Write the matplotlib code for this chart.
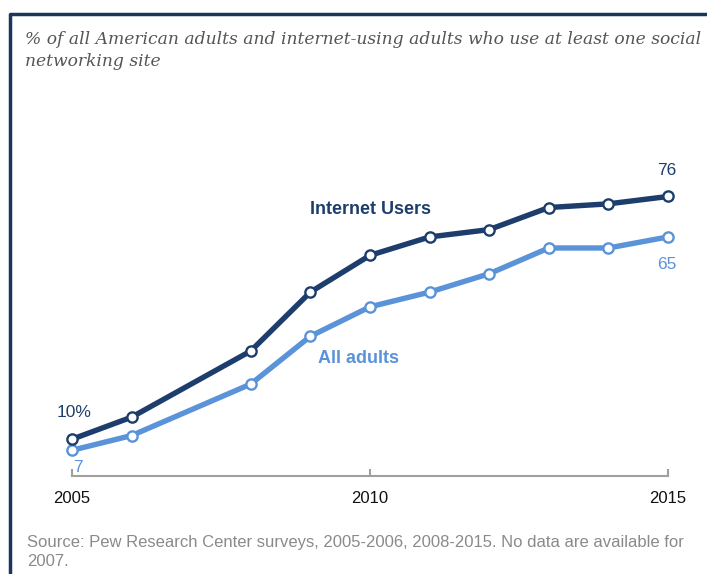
import matplotlib
matplotlib.use('Agg')
from matplotlib import pyplot as plt
from matplotlib.lines import Line2D

years = [2005, 2006, 2008, 2009, 2010, 2011, 2012, 2013, 2014, 2015]
internet_users = [10, 16, 34, 50, 60, 65, 67, 73, 74, 76]
all_adults = [7, 11, 25, 38, 46, 50, 55, 62, 62, 65]
xticks = [2005, 2010, 2015]

dark = '#1d3e6c'
light = '#5b93d9'
W, H = 707, 574

fig = plt.figure(figsize=(W / 100, H / 100), dpi=100)
ax = fig.add_axes([72 / W, 1 - 476 / H, (668 - 72) / W, 331 / H])

for vals, col in [(all_adults, light), (internet_users, dark)]:
    ax.plot(years, vals, color=col, lw=3.9, marker='o', ms=7.4,
            mfc='white', mec=col, mew=1.7, clip_on=False, zorder=3)

ax.set_xlim(2005, 2015)
ax.set_ylim(0, 90)
for s in ['top', 'right', 'left']:
    ax.spines[s].set_visible(False)
ax.spines['bottom'].set_color('#a0a0a0')
ax.spines['bottom'].set_linewidth(1.5)
ax.set_yticks([])
ax.set_xticks(xticks)
ax.set_xticklabels([str(x) for x in xticks], fontsize=12, color='#111111',
                   family='Liberation Sans')
ax.tick_params(axis='x', direction='in', length=5, width=1.5, color='#a0a0a0', pad=11)

# series labels
ax.text(2010, 72.5, 'Internet Users', color=dark, fontsize=13, fontweight='bold',
        ha='center', va='center', family='Liberation Sans')
ax.text(2009.8, 32, 'All adults', color=light, fontsize=13, fontweight='bold',
        ha='center', va='center', family='Liberation Sans')

# end value labels
ax.annotate('%d%%' % internet_users[0], (years[0], internet_users[0]), xytext=(2, 27),
            textcoords='offset pixels', ha='center', va='center', color=dark,
            fontsize=12.5, family='Liberation Sans')
ax.annotate('%d' % all_adults[0], (years[0], all_adults[0]), xytext=(6, -17),
            textcoords='offset pixels', ha='center', va='center', color=light,
            fontsize=12.5, family='Liberation Sans')
ax.annotate('%d' % internet_users[-1], (years[-1], internet_users[-1]), xytext=(-1, 26),
            textcoords='offset pixels', ha='center', va='center', color=dark,
            fontsize=12.5, family='Liberation Sans')
ax.annotate('%d' % all_adults[-1], (years[-1], all_adults[-1]), xytext=(-1, -28),
            textcoords='offset pixels', ha='center', va='center', color=light,
            fontsize=12.5, family='Liberation Sans')

# title + source
fig.text(25 / W, 1 - 39 / H,
         '% of all American adults and internet-using adults who use at least one social',
         fontsize=12.3, style='italic', family='DejaVu Serif', color='#555555', va='center')
fig.text(25 / W, 1 - 62 / H, 'networking site',
         fontsize=12.3, style='italic', family='DejaVu Serif', color='#555555', va='center')
fig.text(27 / W, 1 - 542 / H,
         'Source: Pew Research Center surveys, 2005-2006, 2008-2015. No data are available for',
         fontsize=12, family='Liberation Sans', color='#8a8a8a', va='center')
fig.text(27 / W, 1 - 562 / H, '2007.',
         fontsize=12, family='Liberation Sans', color='#8a8a8a', va='center')

# frame on the left and top
fig.add_artist(Line2D([9.5 / W, 9.5 / W, 1], [0, 1 - 14 / H, 1 - 14 / H],
                      transform=fig.transFigure, color='#1b365d', lw=2.5))

fig.savefig('out.png', dpi=100)
